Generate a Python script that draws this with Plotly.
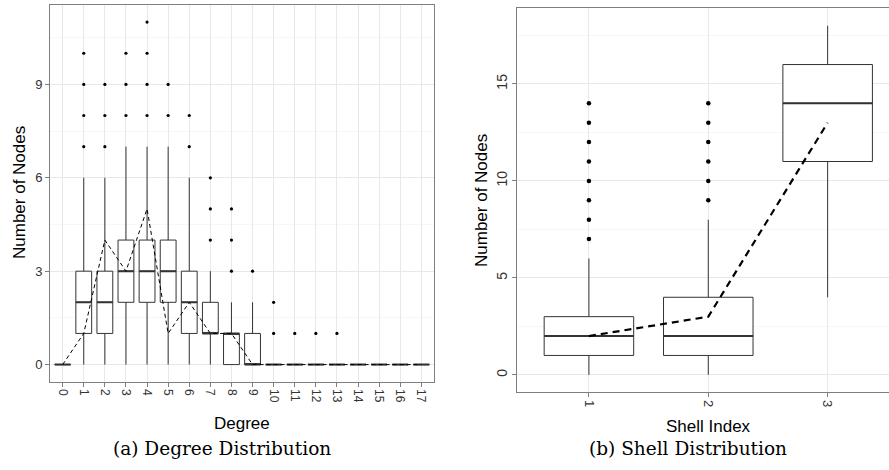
import plotly.graph_objects as go

# ---------------- data ----------------
degrees = list(range(18))
deg_q1 = [0, 1, 1, 2, 2, 2, 1, 1, 0, 0, 0, 0, 0, 0, 0, 0, 0, 0]
deg_med = [0, 2, 2, 3, 3, 3, 2, 1, 1, 0, 0, 0, 0, 0, 0, 0, 0, 0]
deg_q3 = [0, 3, 3, 4, 4, 4, 3, 2, 1, 1, 0, 0, 0, 0, 0, 0, 0, 0]
deg_lo = [0, 0, 0, 0, 0, 0, 0, 0, 0, 0, 0, 0, 0, 0, 0, 0, 0, 0]
deg_hi = [0, 6, 6, 7, 7, 7, 6, 3, 2, 2, 0, 0, 0, 0, 0, 0, 0, 0]
deg_outliers = [[], [7, 8, 9, 10], [7, 8, 9], [8, 9, 10], [8, 9, 10, 11], [8, 9],
                [7, 8], [4, 5, 6], [3, 4, 5], [3], [1, 2], [1], [1], [1], [], [], [], []]
deg_line = [0, 1, 4, 3, 5, 1, 2, 1, 1, 0, 0, 0, 0, 0, 0, 0, 0, 0]
deg_yticks = [0, 3, 6, 9]

shells = [1, 2, 3]
sh_q1 = [1, 1, 11]
sh_med = [2, 2, 14]
sh_q3 = [3, 4, 16]
sh_lo = [0, 0, 4]
sh_hi = [6, 8, 18]
sh_outliers = [[7, 8, 9, 10, 11, 12, 13, 14], [9, 10, 11, 12, 13, 14], []]
sh_line = [2, 3, 13]
sh_yticks = [0, 5, 10, 15]

# ---------------- helpers ----------------
W, H = 889, 470
BOX_W = 0.75
FONT = "Liberation Sans, Arial, sans-serif"
SERIF = "DejaVu Serif, serif"
BORDER = "#7f7f7f"
GRID = "#E8E8E8"
MINOR = "#F7F7F7"
INK = "#333333"


def fx(p):
    return p / W


def fy(p):
    return 1 - p / H


def median_segments(xs, ys, half):
    X, Y = [], []
    for x, y in zip(xs, ys):
        X += [x - half, x + half, None]
        Y += [y, y, None]
    return X, Y


def flatten(xs, groups):
    X, Y = [], []
    for x, g in zip(xs, groups):
        for v in g:
            X.append(x)
            Y.append(v)
    return X, Y


fig = go.Figure()


def add_panel(xs, q1, med, q3, lo, hi, outl, line, xa, ya, msize, lw, dash):
    fig.add_trace(go.Box(
        x=xs, q1=q1, median=med, q3=q3, lowerfence=lo, upperfence=hi,
        width=BOX_W, whiskerwidth=0, fillcolor="white",
        line=dict(color=INK, width=1), boxpoints=False,
        xaxis=xa, yaxis=ya, showlegend=False, hoverinfo="skip"))
    mx, my = median_segments(xs, med, BOX_W / 2)
    fig.add_trace(go.Scatter(x=mx, y=my, mode="lines",
                             line=dict(color=INK, width=2),
                             xaxis=xa, yaxis=ya, showlegend=False, hoverinfo="skip"))
    ox, oy = flatten(xs, outl)
    fig.add_trace(go.Scatter(x=ox, y=oy, mode="markers",
                             marker=dict(color="black", size=msize),
                             xaxis=xa, yaxis=ya, showlegend=False, hoverinfo="skip"))
    fig.add_trace(go.Scatter(x=xs, y=line, mode="lines",
                             line=dict(color="black", width=lw, dash=dash),
                             xaxis=xa, yaxis=ya, showlegend=False, hoverinfo="skip"))


add_panel(degrees, deg_q1, deg_med, deg_q3, deg_lo, deg_hi, deg_outliers, deg_line,
          "x", "y", 3.2, 1, "4px,3px")
add_panel(shells, sh_q1, sh_med, sh_q3, sh_lo, sh_hi, sh_outliers, sh_line,
          "x2", "y2", 4.5, 2.2, "7px,5px")

common_axis = dict(
    ticks="outside", ticklen=4, tickwidth=1, tickcolor=BORDER,
    showline=True, linecolor=BORDER, linewidth=1,
    showgrid=True, gridcolor=GRID, gridwidth=1, zeroline=False,
)

fig.update_layout(
    width=W, height=H,
    margin=dict(l=0, r=0, t=0, b=0),
    paper_bgcolor="white", plot_bgcolor="white",
    font=dict(family=FONT, color="black"),
    xaxis=dict(domain=[fx(50), fx(434)], range=[-0.6, 17.6],
               tickmode="array", tickvals=degrees, ticktext=[str(d) for d in degrees],
               tickangle=90, mirror=True, anchor="y",
               tickfont=dict(family=FONT, size=12, color=INK), **common_axis),
    yaxis=dict(domain=[fy(381.7), fy(5)], range=[-0.55, 11.55],
               tickmode="array", tickvals=deg_yticks, ticktext=[str(v) for v in deg_yticks],
               mirror=True, anchor="x",
               minor=dict(tickmode="linear", tick0=1.5, dtick=3, showgrid=True,
                          gridcolor=MINOR, ticks=""),
               tickfont=dict(family=FONT, size=13, color=INK), **common_axis),
    xaxis2=dict(domain=[fx(517.3), 1.0], range=[0.4, 3.514],
                tickmode="array", tickvals=shells, ticktext=[str(s) for s in shells],
                tickangle=90, mirror=True, anchor="y2",
                tickfont=dict(family=FONT, size=13, color=INK), **common_axis),
    yaxis2=dict(domain=[fy(392.3), fy(8.3)], range=[-0.9, 18.9],
                tickmode="array", tickvals=sh_yticks, ticktext=[str(v) for v in sh_yticks],
                tickangle=-90, mirror=False, anchor="x2",
                minor=dict(tickmode="linear", tick0=2.5, dtick=5, showgrid=True,
                           gridcolor=MINOR, ticks=""),
                tickfont=dict(family=FONT, size=14, color=INK), **common_axis),
)

annotations = [
    dict(text="Number of Nodes", x=fx(19), y=fy(193), textangle=-90,
         font=dict(family=FONT, size=17, color="black")),
    dict(text="Degree", x=fx(242), y=fy(423),
         font=dict(family=FONT, size=17, color="black")),
    dict(text="(a) Degree Distribution", x=fx(222), y=fy(448),
         font=dict(family=SERIF, size=18.5, color="black")),
    dict(text="Number of Nodes", x=fx(482), y=fy(200), textangle=-90,
         font=dict(family=FONT, size=17, color="black")),
    dict(text="Shell Index", x=fx(708), y=fy(426),
         font=dict(family=FONT, size=17, color="black")),
    dict(text="(b) Shell Distribution", x=fx(688), y=fy(448),
         font=dict(family=SERIF, size=18.5, color="black")),
]
for a in annotations:
    a.update(xref="paper", yref="paper", showarrow=False,
             xanchor="center", yanchor="middle")
fig.update_layout(annotations=annotations)

fig.write_html("out.html", config={"displayModeBar": False})
